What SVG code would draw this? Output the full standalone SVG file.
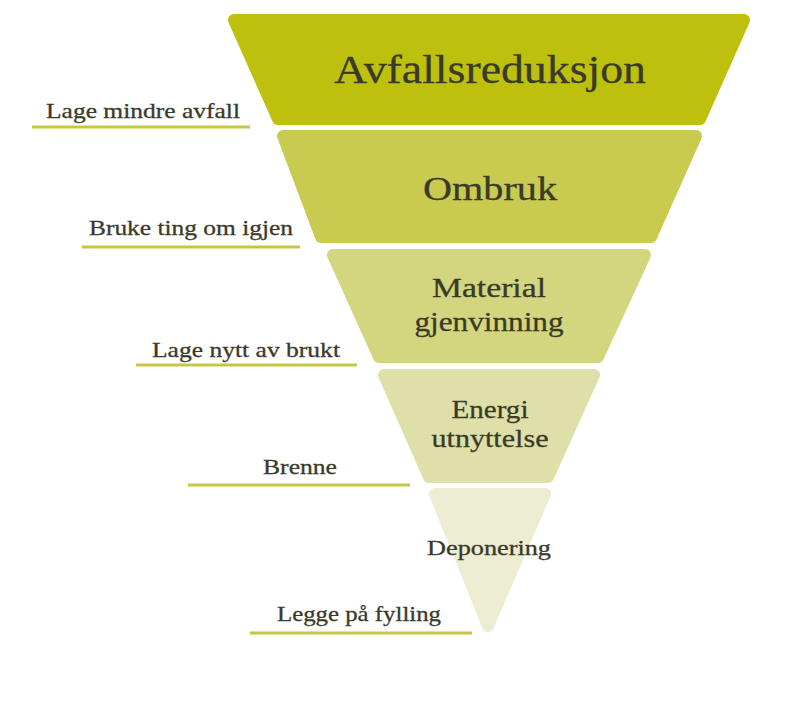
<svg xmlns="http://www.w3.org/2000/svg" width="793" height="708" viewBox="0 0 793 708">
<style>
.l{stroke-width:12;stroke-linejoin:round}
text{font-family:"Liberation Serif","DejaVu Serif",serif;fill:#3a3a28;text-anchor:middle;stroke:#3a3a28;stroke-width:0.3}
.s{font-size:22px}
.u{stroke:#c5c645;stroke-width:3}
</style>
<rect width="793" height="708" fill="#fff"/>
<g id="n1"><polygon class="l" fill="#bdc00d" stroke="#bdc00d" points="234,20 744,20 700,119 278,119"/><text x="490" y="83" font-size="40" textLength="312" lengthAdjust="spacingAndGlyphs">Avfallsreduksjon</text></g>
<g id="n2"><polygon class="l" fill="#c8cb4f" stroke="#c8cb4f" points="283,136 696,136 651,237 321,237"/><text x="490" y="200" font-size="33" textLength="134" lengthAdjust="spacingAndGlyphs">Ombruk</text></g>
<g id="n3"><polygon class="l" fill="#d3d57f" stroke="#d3d57f" points="333,255 645,255 598,357 379,357"/><text x="489" y="297" font-size="28" textLength="114" lengthAdjust="spacingAndGlyphs">Material</text><text x="489" y="331" font-size="28" textLength="149" lengthAdjust="spacingAndGlyphs">gjenvinning</text></g>
<g id="n4"><polygon class="l" fill="#dfe0a9" stroke="#dfe0a9" points="384,375 594,375 548,477 429,477"/><text x="490" y="418" font-size="26" textLength="77" lengthAdjust="spacingAndGlyphs">Energi</text><text x="490" y="447" font-size="26" textLength="117" lengthAdjust="spacingAndGlyphs">utnyttelse</text></g>
<g id="n5"><polygon class="l" fill="#ecedd3" stroke="#ecedd3" points="435,494 545,494 488,626"/><text x="489" y="555" font-size="21" textLength="124" lengthAdjust="spacingAndGlyphs">Deponering</text></g>
<g id="labels">
<text class="s" x="143" y="118" textLength="194" lengthAdjust="spacingAndGlyphs">Lage mindre avfall</text>
<text class="s" x="191" y="235" textLength="204" lengthAdjust="spacingAndGlyphs">Bruke ting om igjen</text>
<text class="s" x="246" y="357" textLength="188" lengthAdjust="spacingAndGlyphs">Lage nytt av brukt</text>
<text class="s" x="300" y="474" textLength="74" lengthAdjust="spacingAndGlyphs">Brenne</text>
<text class="s" x="359" y="621" textLength="164" lengthAdjust="spacingAndGlyphs">Legge på fylling</text>
</g>
<g id="connectors">
<line class="u" x1="32" y1="127" x2="250" y2="127"/>
<line class="u" x1="82" y1="247" x2="300" y2="247"/>
<line class="u" x1="136" y1="365" x2="357" y2="365"/>
<line class="u" x1="188" y1="485" x2="410" y2="485"/>
<line class="u" x1="250" y1="633" x2="472" y2="633"/>
</g>
</svg>
